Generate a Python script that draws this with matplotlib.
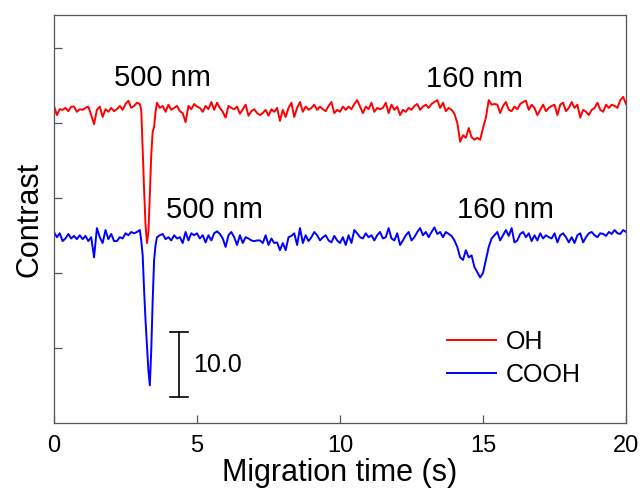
import numpy as np
import matplotlib
matplotlib.use("Agg")
import matplotlib.pyplot as plt

plt.rcParams['font.family'] = ['Liberation Sans', 'DejaVu Sans']

# time axis (s): 0.1 s steps, finer around the 500 nm peak
t = np.round(np.concatenate([np.arange(0.0, 3.01, 0.1),
                             np.arange(3.05, 3.56, 0.05),
                             np.arange(3.6, 20.01, 0.1)]), 2)

# OH trace, contrast relative to its own baseline
oh = [0.3, -1.1, -0.2, -0.3, 0.0, -0.5, 0.2, 0.2, -0.6, -0.2,
      -0.3, 0.0, 0.2, -1.1, -2.5, -0.3, 0.2, -1.4, -0.2, -0.6,
      0.0, -0.5, -0.2, 0.3, -0.3, 0.6, 1.1, 0.0, 0.3, 0.8,
      0.6,
      -0.3, -6.5, -12.6, -18.0, -20.8, -19.1, -13.4, -7.2, -3.7, -2.9, -0.6,
      0.8, 0.0, 0.3, -0.6,
      0.5, -0.3, 0.0, 0.3, -0.5, -0.8, -2.2, 0.3, -0.2, 0.6,
      0.2, 0.0, -0.6, 0.3, -0.2, 0.9, -0.3, 0.8, 0.0, -0.6,
      -1.5, 0.3, 0.0, -0.2, 0.2, -0.9, -0.2, 0.5, -1.2, -0.5,
      -0.2, -0.8, -1.1, -0.8, -0.3, -1.2, -0.2, -0.6, 0.0, -2.0,
      -0.3, -1.4, 0.0, 0.8, -1.4, 0.0, 0.9, -0.6, 0.2, -0.3,
      0.0, 0.5, -0.3, 0.2, -0.2, -0.5, 0.3, 0.9, -0.8, -0.3,
      -0.6, 0.2, -0.3, 0.2, -0.2, 0.6, 1.2, 0.2, -0.8, 0.2,
      -0.2, 0.8, -0.6, 0.0, -0.2, 0.0, 0.8, -0.8, 0.5, -0.3,
      0.2, -1.1, -0.3, -0.6, 0.0, -0.3, 0.3, 0.6, -0.3, 0.2,
      0.5, 0.0, 0.6, 0.9, 1.2, 0.0, 0.8, -0.5, 0.0, -0.3,
      -0.9, -2.3, -5.2, -4.2, -4.6, -3.1, -4.5, -4.9, -4.6, -4.9,
      -3.1, -1.5, 1.2, 0.5, 0.6, 0.5, -0.8, 0.3, 0.9, -0.3,
      -0.5, 0.2, -0.2, 0.6, 0.9, 1.1, -0.3, 0.5, 0.0, -1.1,
      -0.3, 0.5, -0.5, 0.0, 0.3, 0.5, -1.1, 0.5, 0.8, -0.5,
      0.0, 0.9, 0.0, 0.5, -1.5, -0.3, -0.6, -1.1, -0.3, 0.0,
      0.8, -0.3, -0.6, 0.5, 0.0, 0.5, 0.3, 0.0, 1.2, 1.7,
      0.6]

# COOH trace
cooh = [0.8, 0.0, 0.6, -0.6, -0.2, 0.5, -0.2, 0.2, -0.3, 0.3,
        -0.3, 0.2, -0.6, 0.0, -3.1, 1.4, 0.0, -0.9, 1.1, -0.3,
        0.5, -0.6, -0.6, 0.0, -0.2, 0.6, 0.3, 0.8, 0.6, 0.8,
        1.1,
        -0.5, -2.8, -8.2, -12.8, -16.6, -20.5, -22.8, -17.4, -9.7, -3.5, -1.2,
        0.0, 0.3, 0.5, -0.3,
        0.0, -0.5, 0.3, -0.2, 0.0, -0.9, 0.8, -0.5, 0.6, 0.3,
        0.6, -0.2, 0.3, -0.8, 0.3, -0.5, 0.6, 0.9, 0.5, -0.2,
        -1.5, 0.3, 0.8, 0.0, -1.2, 0.3, -0.9, 0.0, -0.2, -0.5,
        -0.6, -0.5, -0.5, -0.9, 0.3, -1.2, -0.2, -0.9, -0.8, -2.0,
        -0.9, -2.0, 0.0, 0.2, 0.6, -1.2, 1.4, -0.9, 0.3, -0.6,
        0.0, 0.8, 0.3, -0.5, 0.0, 0.3, -0.5, -0.8, 0.2, -0.5,
        -0.9, 0.0, -1.2, 0.3, -0.9, 1.1, 0.6, 0.0, -0.2, 0.6,
        0.0, 0.3, -0.5, 0.3, 0.8, -0.2, 0.0, 1.4, -0.2, -0.5,
        0.6, -1.2, -0.5, 0.3, 0.8, -0.5, 0.0, 0.8, 1.4, 0.3,
        0.8, 0.0, 0.8, 1.5, 0.5, 0.8, 0.0, 0.8, 0.5, 0.2,
        -0.5, -1.5, -3.1, -3.5, -2.0, -3.1, -2.8, -4.6, -5.4, -6.2,
        -5.5, -3.5, -1.5, -0.2, 0.3, 0.8, -0.5, 0.3, 1.1, 0.2,
        1.4, -0.8, -0.5, 0.5, 0.8, 0.0, 0.6, -0.6, 0.3, -0.5,
        0.6, -0.2, 0.3, 0.0, -0.2, 0.6, -0.8, 0.3, 0.6, 0.0,
        -0.8, 0.0, -0.9, 0.3, 0.6, -0.8, 0.0, 0.6, 0.8, 0.3,
        0.0, 0.6, 0.5, 0.2, 0.8, 0.5, 1.1, 0.6, 0.5, 1.1,
        0.8]

oh_offset = 48.5
cooh_offset = 28.6

fig = plt.figure(figsize=(6.43, 5.0), dpi=100)
ax = fig.add_axes([0.084, 0.154, 0.8896, 0.816])

l2, = ax.plot(t, np.array(cooh) + cooh_offset, color='#0000ff', lw=1.4, label='COOH')
l1, = ax.plot(t, np.array(oh) + oh_offset, color='#ff0000', lw=1.4, label='OH')

ax.set_xlim(0, 20)
ax.set_ylim(0, 62.8)
ax.set_xticks([0, 5, 10, 15, 20])
ax.set_yticks(np.arange(1, 6) * 11.54)
ax.set_yticklabels([])
ax.tick_params(direction='in', length=6, width=0.9, color='#555555',
               labelsize=17, pad=9)
for s in ax.spines.values():
    s.set_color('#555555')
    s.set_linewidth(0.9)

ax.set_xlabel('Migration time (s)', fontsize=22, labelpad=0)
ax.set_ylabel('Contrast', fontsize=22, labelpad=-2)

ax.text(3.78, 53.1, '500 nm', fontsize=21, ha='center', va='center')
ax.text(14.69, 52.9, '160 nm', fontsize=21, ha='center', va='center')
ax.text(5.6, 32.8, '500 nm', fontsize=21, ha='center', va='center')
ax.text(15.8, 32.8, '160 nm', fontsize=21, ha='center', va='center')

# scale bar
ax.plot([4.38, 4.38], [4.0, 14.0], color='black', lw=1.2)
ax.plot([4.07, 4.69], [14.0, 14.0], color='black', lw=1.2)
ax.plot([4.07, 4.69], [4.0, 4.0], color='black', lw=1.2)
ax.text(4.87, 9.0, '10.0', fontsize=18, ha='left', va='center')

ax.legend(handles=[l1, l2], loc='upper left', bbox_to_anchor=(0.687, 0.228),
          frameon=False, fontsize=18, handlelength=1.95, handletextpad=0.4,
          labelspacing=0.35, borderpad=0, borderaxespad=0)

fig.savefig('out.png', dpi=100)
